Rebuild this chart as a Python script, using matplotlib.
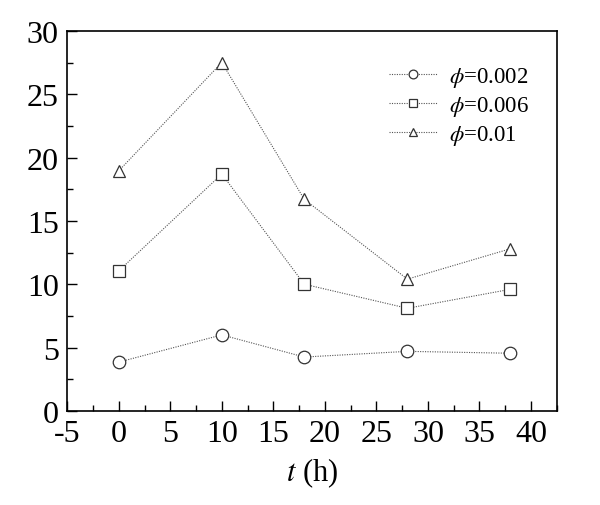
import matplotlib as mpl

mpl.use("Agg")
import matplotlib.pyplot as plt
from matplotlib.ticker import MultipleLocator

plt.rcParams["font.family"] = ["Liberation Serif", "DejaVu Serif"]
plt.rcParams["mathtext.fontset"] = "stix"
plt.rcParams["axes.unicode_minus"] = False

# Sampling times (h)
t_hours = [0, 10, 18, 28, 38]

# Values for each volume fraction
phi_002 = [3.85, 6.0, 4.25, 4.7, 4.55]
phi_006 = [11.05, 18.7, 10.0, 8.1, 9.6]
phi_01 = [18.95, 27.5, 16.7, 10.4, 12.8]

series = [
    (phi_002, "o", r"$\phi$=0.002"),
    (phi_006, "s", r"$\phi$=0.006"),
    (phi_01, "^", r"$\phi$=0.01"),
]

fig = plt.figure(figsize=(6.0, 5.06), dpi=100)
ax = fig.add_axes([0.112, 0.186, 0.816, 0.751])

for values, marker, label in series:
    ax.plot(t_hours, values, linestyle=(0, (1.0, 1.2)), linewidth=0.8, color="#555555",
            marker=marker, markersize=9, markerfacecolor="white",
            markeredgecolor="#333333", markeredgewidth=0.9, label=label)

ax.set_xlim(-5, 42.5)
ax.set_ylim(0, 30)
ax.xaxis.set_major_locator(MultipleLocator(5))
ax.xaxis.set_minor_locator(MultipleLocator(2.5))
ax.yaxis.set_major_locator(MultipleLocator(5))
ax.yaxis.set_minor_locator(MultipleLocator(2.5))
ax.tick_params(which="both", direction="in", top=False, right=False, labelsize=23, width=1.0)
ax.tick_params(which="major", length=7)
ax.tick_params(which="minor", length=4)
ax.tick_params(axis="x", which="major", pad=6)
ax.tick_params(axis="y", which="major", pad=6)
for spine in ax.spines.values():
    spine.set_linewidth(1.2)

ax.set_xlabel(r"$t$ (h)", fontsize=22, labelpad=5)

leg = ax.legend(loc="upper right", bbox_to_anchor=(0.985, 0.965), frameon=False,
                fontsize=16.5, handlelength=2.1, handletextpad=0.5, labelspacing=0.22,
                markerscale=0.7)

plt.savefig("out.png", dpi=100)
plt.close()
